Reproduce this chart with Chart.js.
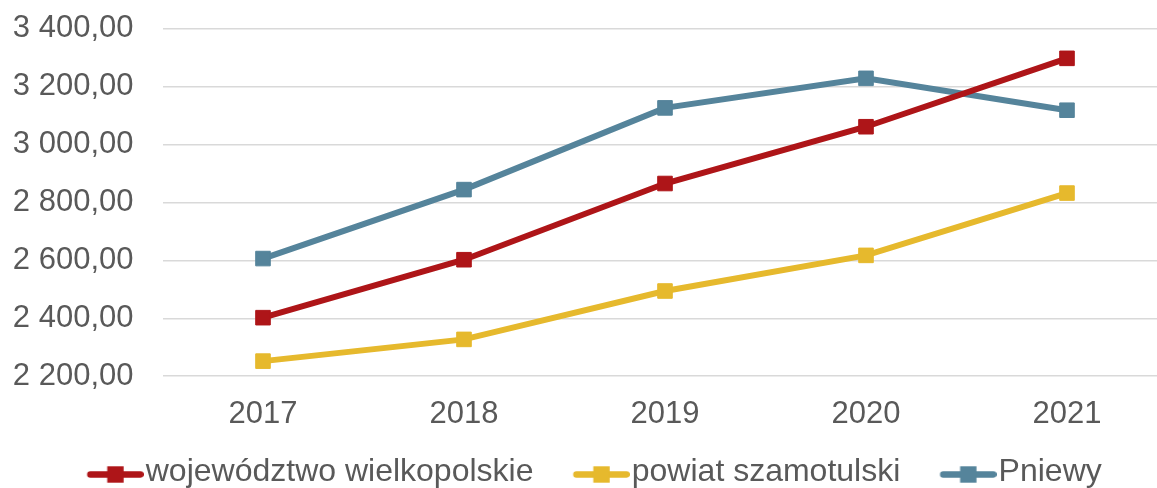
<!DOCTYPE html>
<html>
<head>
<meta charset="utf-8">
<script src="https://cdn.jsdelivr.net/npm/chart.js@4/dist/chart.umd.min.js"></script>
<style>
html,body{margin:0;padding:0;background:#fff;overflow:hidden;width:1157px;height:488px;}
canvas{display:block;}
</style>
</head>
<body>
<canvas id="c" width="1172" height="498"></canvas>
<script>
const categories = ['2017', '2018', '2019', '2020', '2021'];
const seriesNames = ['województwo wielkopolskie', 'powiat szamotulski', 'Pniewy'];
const wielkopolskie = [2402, 2602, 2865, 3061, 3297];
const szamotulski = [2252, 2327, 2494, 2617, 2832];
const pniewy = [2606, 2844, 3126, 3228, 3118];
const yTicks = [2200, 2400, 2600, 2800, 3000, 3200, 3400];

const colors = ['#AE1518', '#E6B92D', '#55849B'];
const FONT = "'Liberation Sans', Arial, sans-serif";
const TEXT = '#595959';

function fmt(v) {
  const s = v.toFixed(2).split('.');
  const int = s[0].replace(/\B(?=(\d{3})+(?!\d))/g, ' ');
  return int + ',' + s[1];
}

function legendIcon(color) {
  const cv = document.createElement('canvas');
  cv.width = 92; cv.height = 30;
  const g = cv.getContext('2d');
  const cy = 17.5;
  g.strokeStyle = color;
  g.lineWidth = 6.5;
  g.lineCap = 'round';
  g.beginPath(); g.moveTo(92 - 56.6 + 3.2, cy); g.lineTo(92 - 3.2, cy); g.stroke();
  g.fillStyle = color;
  const mx = 92 - 28.3;
  g.fillRect(mx - 8.2, cy - 8.2, 16.4, 16.4);
  return cv;
}

const icons = colors.map(legendIcon);
const allData = [wielkopolskie, szamotulski, pniewy];

const chart = new Chart(document.getElementById('c'), {
  type: 'line',
  data: {
    labels: categories,
    datasets: allData.map((d, i) => ({
      label: seriesNames[i],
      data: d,
      borderColor: colors[i],
      backgroundColor: colors[i],
      borderWidth: 6,
      pointStyle: 'rect',
      pointRadius: 10.3,
      pointBorderWidth: 1,
      pointBackgroundColor: colors[i],
      pointBorderColor: colors[i],
      tension: 0,
      fill: false
    }))
  },
  options: {
    responsive: false,
    animation: false,
    events: [],
    layout: { autoPadding: false, padding: { left: 0, right: 4.5, top: 28.5, bottom: 0 } },
    scales: {
      x: {
        type: 'category',
        offset: true,
        grid: { display: false, drawTicks: false },
        border: { display: false },
        ticks: { color: TEXT, font: { family: FONT, size: 31 }, padding: 20, maxRotation: 0 },
        afterFit: (s) => { s.height = 61.5; }
      },
      y: {
        min: yTicks[0],
        max: yTicks[yTicks.length - 1],
        afterBuildTicks: (s) => { s.ticks = yTicks.map(v => ({ value: v })); },
        grid: { color: '#d9d9d9', lineWidth: 1.5, drawTicks: true, tickLength: 29, tickColor: 'rgba(0,0,0,0)' },
        border: { display: false },
        ticks: { color: TEXT, font: { family: FONT, size: 31 }, padding: 0, callback: (v) => fmt(v) },
        afterFit: (s) => { s.width = 162.5; }
      }
    },
    plugins: {
      tooltip: { enabled: false },
      legend: {
        position: 'bottom',
        labels: {
          color: TEXT,
          font: { family: FONT, size: 32 },
          usePointStyle: true,
          pointStyleWidth: 64,
          padding: 18.3,
          generateLabels: (ch) => ch.data.datasets.map((ds, i) => ({
            text: ds.label,
            pointStyle: icons[i],
            fillStyle: colors[i],
            strokeStyle: colors[i],
            lineWidth: 0,
            hidden: false,
            datasetIndex: i,
            fontColor: TEXT
          }))
        }
      }
    }
  }
});
</script>
</body>
</html>
